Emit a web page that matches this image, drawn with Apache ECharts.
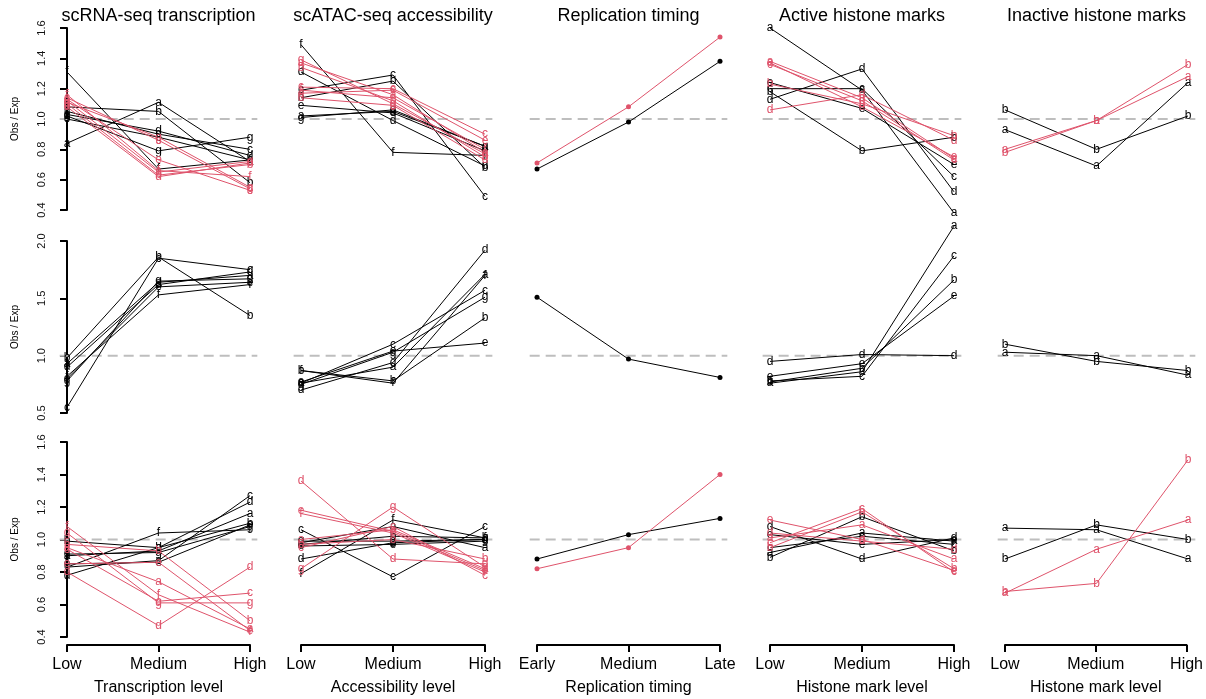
<!DOCTYPE html>
<html><head><meta charset="utf-8">
<script src="https://cdn.jsdelivr.net/npm/echarts@6/dist/echarts.min.js"></script>
<style>html,body{margin:0;padding:0;background:#fff}#c{width:1206px;height:699px}</style>
</head><body><div id="c"></div>
<script>
// ---------- labels ----------
const letters = ['a','b','c','d','e','f','g'];
const levelTicks = ['Low','Medium','High'];
const repTicks = ['Early','Medium','Late'];
const titles = ['scRNA-seq transcription','scATAC-seq accessibility','Replication timing','Active histone marks','Inactive histone marks'];
const axisNames = ['Transcription level','Accessibility level','Replication timing','Histone mark level','Histone mark level'];
const yLabel = 'Obs / Exp';

// ---------- data (values per line: Low, Medium, High) ----------
// Row 1
const r1c1_black = [[0.84,1.11,0.72],[1.08,1.05,0.58],[1.05,0.90,0.80],[1.03,0.92,0.76],[1.00,0.88,0.73],[1.31,0.67,0.73],[1.02,0.79,0.88]];
const r1c1_red   = [[1.12,0.65,0.72],[1.10,0.63,0.70],[1.14,0.86,0.54],[1.08,0.62,0.71],[1.13,0.73,0.53],[1.16,0.66,0.62],[1.11,0.88,0.55]];
const r1c2_black = [[1.02,1.05,0.82],[1.14,1.25,0.68],[1.19,1.29,0.49],[1.31,0.99,0.69],[1.09,1.04,0.79],[1.49,0.78,0.76],[1.01,1.06,0.82]];
const r1c2_red   = [[1.37,1.16,0.78],[1.34,1.12,0.75],[1.21,1.20,0.90],[1.14,1.09,0.73],[1.17,1.19,0.86],[1.19,1.14,0.80],[1.39,1.10,0.77]];
const r1c3_black = [[0.67,0.98,1.38]];
const r1c3_red   = [[0.71,1.08,1.54]];
const r1c4_black = [[1.60,1.19,0.38],[1.18,0.79,0.88],[1.20,1.20,0.62],[1.13,1.33,0.52],[1.24,1.07,0.70]];
const r1c4_red   = [[1.38,1.14,0.74],[1.23,1.10,0.89],[1.36,1.12,0.73],[1.06,1.16,0.86],[1.37,1.08,0.75]];
const r1c5_black = [[0.93,0.69,1.24],[1.06,0.80,1.02]];
const r1c5_red   = [[0.80,0.99,1.28],[0.78,0.99,1.36]];
// Row 2
const r2c1_black = [[0.93,1.64,1.70],[0.98,1.86,1.35],[0.55,1.85,1.75],[0.90,1.62,1.73],[0.80,1.60,1.64],[0.82,1.53,1.62],[0.78,1.65,1.67]];
const r2c2_black = [[0.76,0.90,1.71],[0.87,0.78,1.33],[0.76,1.10,1.57],[0.70,0.94,1.92],[0.77,1.04,1.11],[0.87,0.76,1.70],[0.75,1.03,1.51]];
const r2c3_black = [[1.51,0.97,0.81]];
const r2c4_black = [[0.76,0.86,2.13],[0.77,0.89,1.66],[0.78,0.82,1.87],[0.95,1.01,1.00],[0.82,0.93,1.52]];
const r2c5_black = [[1.03,1.00,0.83],[1.10,0.95,0.87]];
// Row 3
const r3c1_black = [[0.90,0.93,1.16],[0.99,0.95,1.10],[0.83,0.87,1.27],[0.78,0.95,1.23],[0.85,0.86,1.09],[0.83,1.04,1.06],[0.91,0.92,1.08]];
const r3c1_red   = [[0.95,0.74,0.45],[0.97,0.93,0.50],[0.94,0.62,0.67],[0.80,0.47,0.83],[0.85,0.86,0.44],[1.08,0.66,0.43],[1.04,0.61,0.61]];
const r3c2_black = [[0.98,1.08,0.95],[0.97,1.02,1.01],[1.06,0.77,1.08],[0.88,0.98,1.00],[0.96,0.97,0.99],[0.79,1.12,1.01],[0.99,0.99,1.00]];
const r3c2_red   = [[1.00,1.06,0.82],[0.97,1.00,0.88],[0.95,1.08,0.78],[1.36,0.88,0.85],[1.18,1.05,0.81],[1.16,1.04,0.80],[0.82,1.20,0.83]];
const r3c3_black = [[0.88,1.03,1.13]];
const r3c3_red   = [[0.82,0.95,1.40]];
const r3c4_black = [[0.92,1.04,0.99],[0.89,1.14,0.93],[0.95,1.02,0.97],[1.08,0.88,1.01],[1.03,0.97,1.00]];
const r3c4_red   = [[1.01,1.09,0.88],[0.95,1.17,0.82],[0.98,1.19,0.80],[1.04,0.99,0.94],[1.12,1.00,0.81]];
const r3c5_black = [[1.07,1.06,0.88],[0.88,1.09,1.00]];
const r3c5_red   = [[0.67,0.94,1.12],[0.68,0.73,1.49]];

const panels = [
  [[r1c1_black,r1c1_red],[r1c2_black,r1c2_red],[r1c3_black,r1c3_red],[r1c4_black,r1c4_red],[r1c5_black,r1c5_red]],
  [[r2c1_black,[]],[r2c2_black,[]],[r2c3_black,[]],[r2c4_black,[]],[r2c5_black,[]]],
  [[r3c1_black,r3c1_red],[r3c2_black,r3c2_red],[r3c3_black,r3c3_red],[r3c4_black,r3c4_red],[r3c5_black,r3c5_red]]
];
const yMin = [0.4,0.5,0.4], yMax = [1.6,2.0,1.6], yStep = [0.2,0.5,0.2];

// ---------- layout ----------
const lowPx = [67,301,537,770,1005], highPx = [250,485,720,954,1188];
const rowTop = [28,241,442], rowBot = [210,413,637];
const RED = '#DF536B', BLACK = '#000000';
const FONT = 'Liberation Sans, Arial, Helvetica, sans-serif';

const grid = [], xAxis = [], yAxis = [], series = [], graphic = [];
for (let r = 0; r < 3; r++) {
  for (let c = 0; c < 5; c++) {
    const idx = r*5 + c;
    const span = highPx[c] - lowPx[c];
    grid.push({left: lowPx[c] - 0.04*span, top: rowTop[r], width: span*1.08, height: rowBot[r]-rowTop[r]});
    xAxis.push({gridIndex: idx, type: 'value', min: -0.08, max: 2.08, show: false});
    yAxis.push({
      gridIndex: idx, type: 'value', min: yMin[r], max: yMax[r], interval: yStep[r], show: c === 0,
      axisLine: {show: true, lineStyle: {color: BLACK, width: 2}},
      axisTick: {show: true, length: 7, lineStyle: {color: BLACK, width: 2}},
      axisLabel: {rotate: 90, fontSize: 11, color: '#111', margin: 12, fontFamily: FONT,
                  formatter: v => v.toFixed(1)},
      splitLine: {show: false},
      name: yLabel, nameLocation: 'middle', nameGap: 39,
      nameTextStyle: {fontSize: 10, color: BLACK, fontFamily: FONT}
    });
    // reference dashed line at 1
    series.push({type: 'line', xAxisIndex: idx, yAxisIndex: idx, data: [[-0.08,1],[2.08,1]],
      symbol: 'none', silent: true, z: 1,
      lineStyle: {color: '#BEBEBE', width: 2, type: [10,6]}});
    const isRep = (c === 2);
    const [blk, red] = panels[r][c];
    const add = (arr, color) => arr.forEach((vals, i) => {
      series.push({
        type: 'line', xAxisIndex: idx, yAxisIndex: idx, clip: false, silent: true, z: 3,
        data: vals.map((v, j) => [j, v]),
        symbol: 'circle', symbolSize: isRep ? 5 : 0,
        lineStyle: {color: color, width: 1},
        itemStyle: {color: color},
        label: isRep ? {show: false} : {show: true, position: 'inside', formatter: letters[i],
          color: color, fontSize: 12, fontFamily: FONT}
      });
    });
    add(blk, BLACK);
    add(red, RED);
  }
}
// bottom axes
for (let c = 0; c < 5; c++) {
  const idx = 15 + c;
  const ticks = c === 2 ? repTicks : levelTicks;
  grid.push({left: lowPx[c], width: highPx[c]-lowPx[c], top: 600, height: 45});
  xAxis.push({gridIndex: idx, type: 'value', min: 0, max: 2, interval: 1, position: 'bottom',
    axisLine: {show: true, lineStyle: {color: BLACK, width: 2}},
    axisTick: {show: true, length: 7, lineStyle: {color: BLACK, width: 2}},
    axisLabel: {fontSize: 16, color: BLACK, margin: 12, fontFamily: FONT, formatter: v => ticks[Math.round(v)]},
    splitLine: {show: false},
    name: axisNames[c], nameLocation: 'middle', nameGap: 35,
    nameTextStyle: {fontSize: 16, color: BLACK, fontFamily: FONT}});
  yAxis.push({gridIndex: idx, type: 'value', show: false});
  graphic.push({type: 'text', x: (lowPx[c]+highPx[c])/2, y: 16,
    style: {text: titles[c], fontSize: 18, fontFamily: FONT, fill: BLACK, textAlign: 'center', textVerticalAlign: 'middle'}});
}

const chart = echarts.init(document.getElementById('c'), null, {renderer: 'canvas'});
chart.setOption({animation: false, backgroundColor: '#fff', textStyle: {fontFamily: FONT},
  grid, xAxis, yAxis, series, graphic});
</script></body></html>
